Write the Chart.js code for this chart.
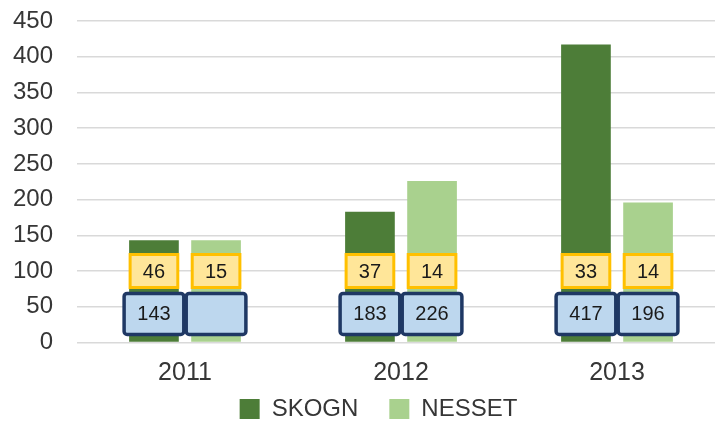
<!DOCTYPE html>
<html>
<head>
<meta charset="utf-8">
<script src="https://cdn.jsdelivr.net/npm/chart.js@4/dist/chart.umd.min.js"></script>
<style>
  html, body { margin: 0; padding: 0; background: #ffffff; overflow: hidden; }
  #wrap { position: relative; width: 725px; height: 425px; }
</style>
</head>
<body>
<div id="wrap"><canvas id="c"></canvas></div>
<script>
// Categories and series
const years = ['2011', '2012', '2013'];
const skogn = [143, 183, 417];
const nesset = [143, 226, 196];
// Bar value labels (blank where no value is shown)
const skognLabels = ['143', '183', '417'];
const nessetLabels = ['', '226', '196'];
// Secondary figures shown in the yellow boxes
const skognExtra = [46, 37, 33];
const nessetExtra = [15, 14, 14];
// Axis ticks
const yTicks = [0, 50, 100, 150, 200, 250, 300, 350, 400, 450];

const FONT = '"Liberation Sans", Arial, sans-serif';
const TEXT = '#363636';

// Draws the two label boxes on each bar
const boxLabels = {
  id: 'boxLabels',
  afterDatasetsDraw(chart) {
    const ctx = chart.ctx;
    const y = chart.scales.y;
    const yellowY = y.getPixelForValue(100);
    const blueY = y.getPixelForValue(40);
    const extras = [skognExtra, nessetExtra];
    const labels = [skognLabels, nessetLabels];
    ctx.save();
    ctx.font = '20px ' + FONT;
    ctx.textAlign = 'center';
    ctx.textBaseline = 'middle';
    chart.data.datasets.forEach((ds, i) => {
      const meta = chart.getDatasetMeta(i);
      meta.data.forEach((bar, j) => {
        const bw = bar.width;
        // yellow box
        const yw = bw - 2, yh = 33;
        ctx.fillStyle = '#FFE699';
        ctx.strokeStyle = '#FFC000';
        ctx.lineWidth = 3;
        ctx.beginPath();
        ctx.rect(bar.x - yw / 2, yellowY - yh / 2, yw, yh);
        ctx.fill();
        ctx.stroke();
        ctx.fillStyle = '#1a1a1a';
        ctx.fillText(String(extras[i][j]), bar.x, yellowY + 1);
        // blue box
        const bwid = bw + 10, bh = 41;
        ctx.fillStyle = '#BDD7EE';
        ctx.strokeStyle = '#1F3864';
        ctx.lineWidth = 3.5;
        ctx.beginPath();
        ctx.roundRect(bar.x - bwid / 2, blueY - bh / 2, bwid, bh, 3);
        ctx.fill();
        ctx.stroke();
        ctx.fillStyle = '#1a1a1a';
        ctx.fillText(labels[i][j], bar.x, blueY + 1);
      });
    });
    ctx.restore();
  }
};

// Places the legend row under the plot: centred on the bars, close to the year labels
const legendShift = {
  id: 'legendShift',
  afterLayout(chart) {
    const lg = chart.legend;
    if (lg) {
      lg.left += 16; lg.right += 16;
      lg.top -= 27;
    }
  }
};

new Chart(document.getElementById('c'), {
  type: 'bar',
  data: {
    labels: years,
    datasets: [
      { label: 'SKOGN', data: skogn, backgroundColor: '#4D7D38', categoryPercentage: 0.575, barPercentage: 0.8 },
      { label: 'NESSET', data: nesset, backgroundColor: '#A9D18E', categoryPercentage: 0.575, barPercentage: 0.8 }
    ]
  },
  options: {
    responsive: true,
    maintainAspectRatio: false,
    animation: false,
    layout: { padding: { top: 21, right: 0, bottom: 0, left: 0 } },
    plugins: {
      tooltip: { enabled: false },
      legend: {
        position: 'bottom',
        align: 'center',
        maxHeight: 32,
        labels: {
          font: { family: FONT, size: 24 },
          color: TEXT,
          boxWidth: 20,
          boxHeight: 20,
          padding: 31
        }
      }
    },
    scales: {
      x: {
        afterFit(scale) { scale.height = 50.5; },
        grid: { display: false, drawTicks: false },
        border: { display: false },
        ticks: { font: { family: FONT, size: 25 }, color: TEXT, padding: 16 }
      },
      y: {
        min: 0,
        max: 450,
        afterBuildTicks(scale) { scale.ticks = yTicks.map(v => ({ value: v })); },
        afterFit(scale) {
          scale.width = 77;
          scale.paddingTop = 0;
          scale.paddingBottom = 0;
        },
        grid: { color: '#D9D9D9', lineWidth: 1.5, drawTicks: false },
        border: { display: false },
        ticks: { font: { family: FONT, size: 24 }, color: TEXT, padding: 24 }
      }
    }
  },
  plugins: [boxLabels, legendShift]
});
</script>
</body>
</html>
